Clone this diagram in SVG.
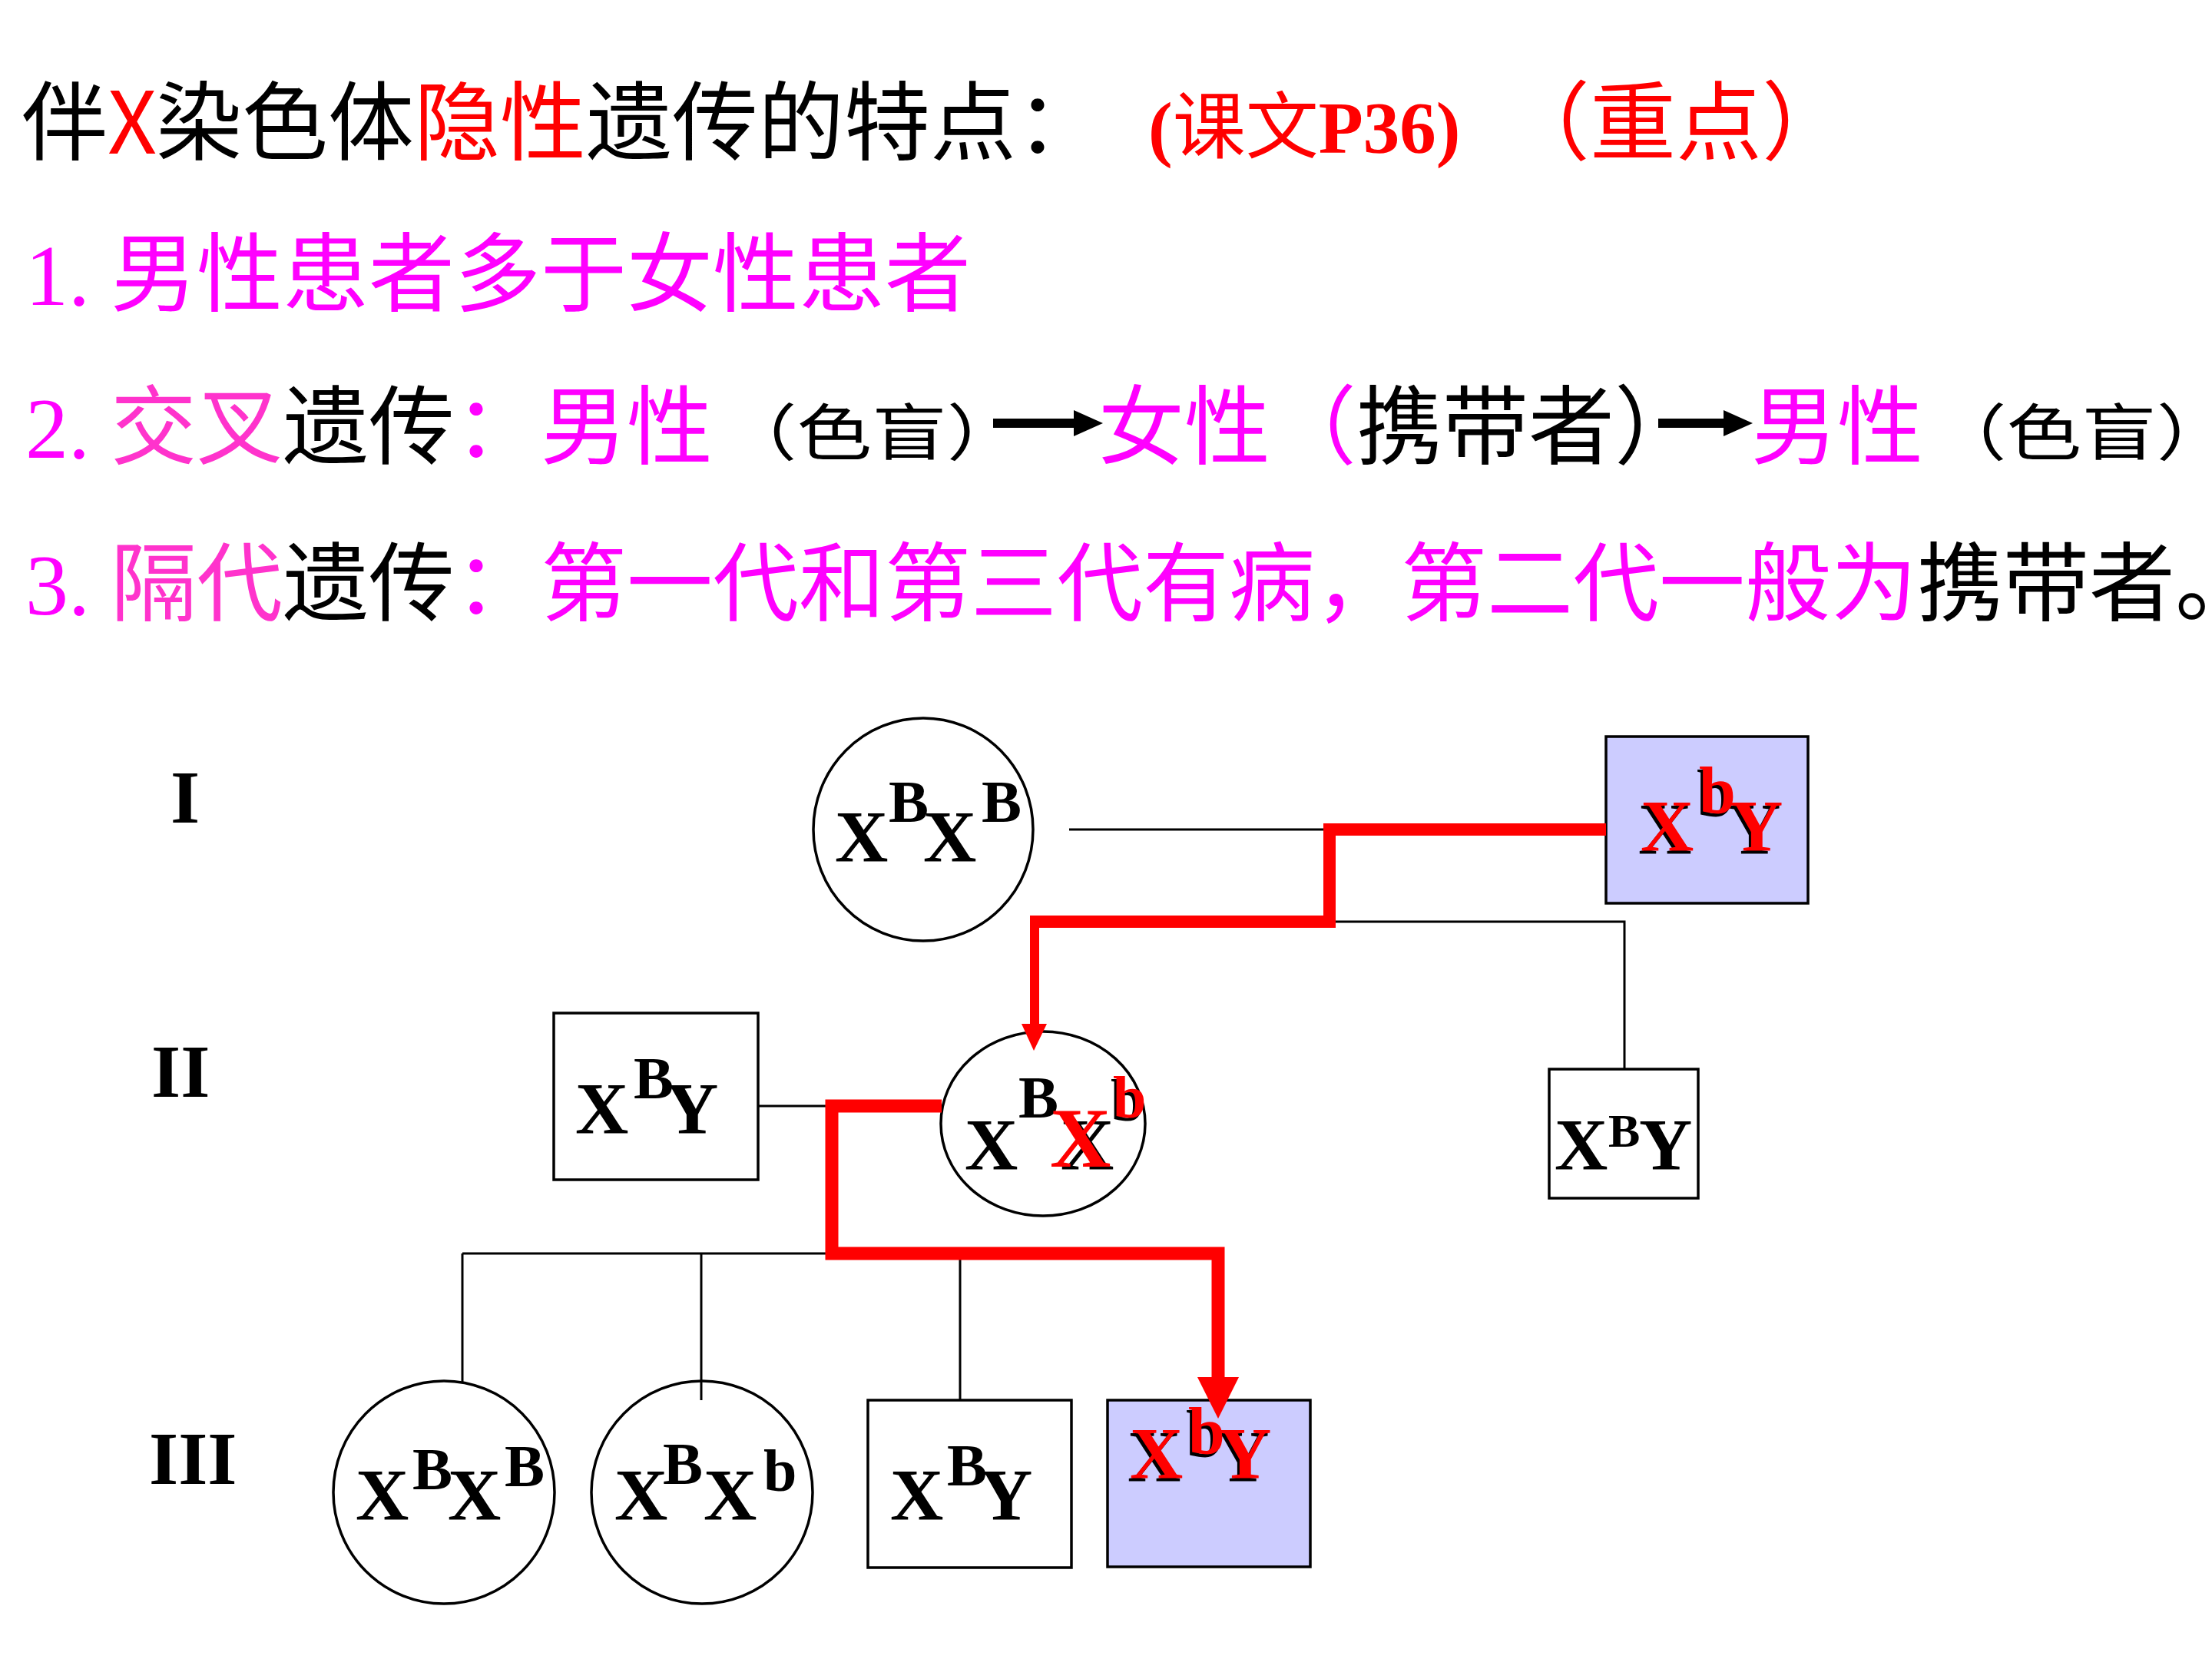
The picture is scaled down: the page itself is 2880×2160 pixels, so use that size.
<svg xmlns="http://www.w3.org/2000/svg" width="2880" height="2160" viewBox="0 0 2880 2160">
<style>
.cjk{font-family:"Noto Sans CJK SC",sans-serif;font-size:112px}
.num{font-family:"Liberation Serif",serif;font-size:112px}
.k{fill:#000}.m{fill:#FF00FF}.p{fill:#FF33CC}.r{fill:#FF0000}
.g{font-family:"Liberation Serif","Times New Roman",serif;font-weight:bold;font-size:96px}
.s{font-size:78px}
.line{stroke:#000;stroke-width:3;fill:none}
.red{stroke:#FF0000;fill:none;stroke-linejoin:miter;stroke-linecap:butt}
.node{stroke:#000;stroke-width:3.5;fill:#fff}
.aff{fill:#CCCCFF}
.lbl{font-family:"Liberation Serif",serif;font-weight:bold;font-size:98px;fill:#000}
</style>
<rect width="2880" height="2160" fill="#fff"/>

<g id="title">
<text class="cjk k" y="200"><tspan x="28">伴</tspan><tspan x="140" class="r">X</tspan><tspan x="203">染色体</tspan><tspan x="539" class="r">隐性</tspan><tspan x="763">遗传的特点：</tspan></text>
<text y="199" fill="#FF0000" font-size="95"><tspan x="1495" font-family="Liberation Serif,serif" font-weight="bold">(</tspan><tspan font-family="Noto Sans CJK SC,sans-serif">课文</tspan><tspan font-family="Liberation Serif,serif" font-weight="bold">P36)</tspan></text>
<text class="cjk r" x="1958" y="200">（重点）</text>
</g>

<g id="point1">
<text y="397"><tspan x="33" class="num m">1.</tspan><tspan x="144" class="cjk m">男性患者多于女性患者</tspan></text>
</g>

<g id="point2">
<text class="cjk" y="596"><tspan x="33" class="num m">2.</tspan><tspan x="144" class="p">交叉</tspan><tspan class="k">遗传</tspan><tspan class="m">：男性</tspan></text>
<text class="cjk k" font-size="80" style="font-size:80px" transform="translate(940,592) scale(1.22,1)">（色盲）</text>
<line x1="1293" y1="551" x2="1402" y2="551" stroke="#000" stroke-width="12"/>
<polygon points="1398,534 1436,551 1398,568" fill="#000"/>
<text class="cjk" y="596"><tspan x="1430" class="m">女性（</tspan><tspan class="k">携带者）</tspan></text>
<line x1="2159" y1="551" x2="2248" y2="551" stroke="#000" stroke-width="12"/>
<polygon points="2244,534 2282,551 2244,568" fill="#000"/>
<text class="cjk m" x="2280" y="596">男性</text>
<text class="cjk k" style="font-size:80px" transform="translate(2515,592) scale(1.22,1)">（色盲）</text>
</g>

<g id="point3">
<text class="cjk" y="800"><tspan x="33" class="num m">3.</tspan><tspan x="144" class="p">隔代</tspan><tspan class="k">遗传</tspan><tspan class="m">：第一代和第三代有病，第二代一般为</tspan><tspan class="k">携带者。</tspan></text>
</g>

<g id="gen-labels">
<text class="lbl" x="222" y="1071">I</text>
<text class="lbl" x="197" y="1428">II</text>
<text class="lbl" x="194" y="1932">III</text>
</g>

<g id="connectors">
<line class="line" x1="1392" y1="1080" x2="1731" y2="1080"/>
<polyline class="line" points="1731,1200 2115,1200 2115,1392"/>
<line class="line" x1="960" y1="1440" x2="1083" y2="1440"/>
<line class="line" x1="602" y1="1632" x2="1083" y2="1632"/>
<line class="line" x1="602" y1="1632" x2="602" y2="1799"/>
<line class="line" x1="913" y1="1632" x2="913" y2="1823"/>
<line class="line" x1="1250" y1="1632" x2="1250" y2="1823"/>
</g>

<g id="I-1">
<ellipse class="node" cx="1202" cy="1080" rx="143" ry="145"/>
<text class="g k"><tspan x="1087" y="1122">X</tspan><tspan class="s" x="1157" y="1070">B</tspan><tspan x="1202" y="1122">X</tspan><tspan class="s" x="1278" y="1070">B</tspan></text>
</g>

<g id="I-2">
<rect class="node aff" x="2091" y="959" width="263" height="217"/>
<text class="g k" transform="translate(-3,4)"><tspan x="2136" y="1108">X</tspan><tspan x="2212" y="1058" style="font-size:86px">b</tspan><tspan x="2252" y="1108">Y</tspan></text>
<text class="g r"><tspan x="2136" y="1108">X</tspan><tspan x="2212" y="1058" style="font-size:86px">b</tspan><tspan x="2252" y="1108">Y</tspan></text>
</g>

<g id="II-1">
<rect class="node" x="721" y="1319" width="266" height="217"/>
<text class="g k"><tspan x="749" y="1476">X</tspan><tspan class="s" x="825" y="1430">B</tspan><tspan x="866" y="1476">Y</tspan></text>
</g>

<g id="II-2">
<ellipse class="node" cx="1358" cy="1463" rx="133" ry="120"/>
<text class="g k"><tspan x="1256" y="1523">X</tspan><tspan class="s" x="1326" y="1455">B</tspan><tspan x="1381" y="1523">X</tspan><tspan class="s" x="1446" y="1459">b</tspan></text>
<text class="g r"><tspan x="1367" y="1519" style="font-size:110px">X</tspan><tspan class="s" x="1449" y="1455">b</tspan></text>
</g>

<g id="II-3">
<rect class="node" x="2017" y="1392" width="194" height="168"/>
<text class="g k"><tspan x="2024" y="1523">X</tspan><tspan x="2094" y="1493" style="font-size:62px">B</tspan><tspan x="2134" y="1523">Y</tspan></text>
</g>

<g id="III-1">
<ellipse class="node" cx="578" cy="1943" rx="144" ry="145"/>
<text class="g k"><tspan x="463" y="1979">X</tspan><tspan class="s" x="537" y="1939">B</tspan><tspan x="583" y="1979">X</tspan><tspan class="s" x="657" y="1935">B</tspan></text>
</g>

<g id="III-2">
<ellipse class="node" cx="914" cy="1943" rx="144" ry="145"/>
<line class="line" x1="913" y1="1799" x2="913" y2="1823"/>
<text class="g k"><tspan x="800" y="1979">X</tspan><tspan class="s" x="863" y="1932">B</tspan><tspan x="916" y="1979">X</tspan><tspan class="s" x="994" y="1941">b</tspan></text>
</g>

<g id="III-3">
<rect class="node" x="1130" y="1823" width="265" height="218"/>
<text class="g k"><tspan x="1159" y="1979">X</tspan><tspan class="s" x="1233" y="1934">B</tspan><tspan x="1275" y="1979">Y</tspan></text>
</g>

<g id="III-4">
<rect class="node aff" x="1442" y="1823" width="264" height="217"/>
<text class="g k" transform="translate(-3,4)"><tspan x="1471" y="1925">X</tspan><tspan x="1547" y="1892" style="font-size:86px">b</tspan><tspan x="1586" y="1925">Y</tspan></text>
<text class="g r"><tspan x="1471" y="1925">X</tspan><tspan x="1547" y="1892" style="font-size:86px">b</tspan><tspan x="1586" y="1925">Y</tspan></text>
</g>

<g id="inheritance-path">
<polyline class="red" stroke-width="16" points="2091,1080 1731,1080 1731,1200 1341,1200"/>
<line class="red" stroke-width="12" x1="1347" y1="1194" x2="1347" y2="1336"/>
<polygon points="1330,1333 1363,1333 1346,1368" fill="#FF0000"/>
<polyline class="red" stroke-width="17" points="1226,1440 1083,1440 1083,1632 1586,1632 1586,1796"/>
<polygon points="1559,1793 1613,1793 1586,1847" fill="#FF0000"/>
</g>
</svg>
